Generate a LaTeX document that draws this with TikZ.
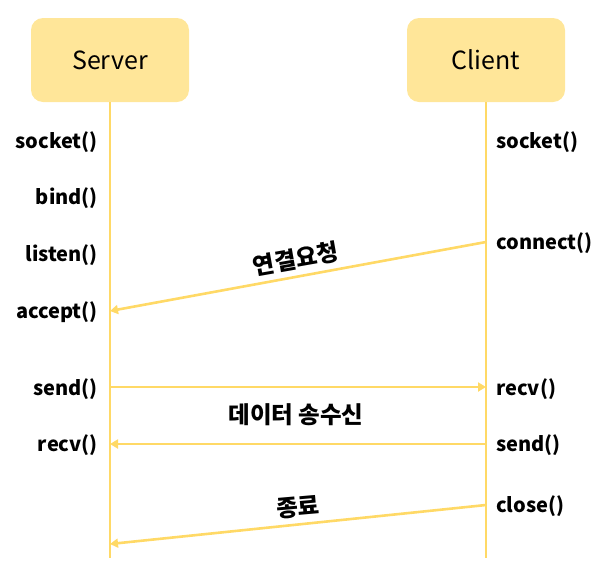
\documentclass[tikz,border=0pt]{standalone}
\usepackage{fontspec}
\setmainfont{Noto Sans CJK KR}
\usetikzlibrary{arrows.meta}
\definecolor{boxfill}{HTML}{FFE699}
\definecolor{lifeline}{HTML}{FFD966}
\tikzset{
  actor/.style={fill=boxfill, rounded corners=12pt, minimum width=158pt, minimum height=84pt, inner sep=0pt, font=\fontsize{25}{30}\selectfont},
  lline/.style={draw=lifeline, line width=2.6pt},
  msg/.style={draw=lifeline, line width=2.6pt, -{Triangle[length=8pt,width=9pt]}},
  lcall/.style={anchor=east, inner sep=0pt, font=\bfseries\fontsize{20}{24}\selectfont},
  rcall/.style={anchor=west, inner sep=0pt, font=\bfseries\fontsize{20}{24}\selectfont},
  mlabel/.style={inner sep=0pt, font=\bfseries\fontsize{23.5}{28}\selectfont},
}
\begin{document}
\begin{tikzpicture}[x=1pt,y=-1pt]
\useasboundingbox (0,0) rectangle (610,579);
\node[actor] (server) at (110,60) {Server};
\node[actor] (client) at (486,60) {Client};
\coordinate (send) at (110,558);
\coordinate (cend) at (486,558);
\draw[lline] (server.south) -- (send);
\draw[lline] (client.south) -- (cend);
% left labels
\node[lcall] (s1) at (98,142) {socket()};
\node[lcall] (s2) at (98,198) {bind()};
\node[lcall] (s3) at (98,255) {listen()};
\node[lcall] (s4) at (98,312) {accept()};
\node[lcall] (s5) at (98,389) {send()};
\node[lcall] (s6) at (98,445) {recv()};
% right labels
\node[rcall] (c1) at (496,142) {socket()};
\node[rcall] (c2) at (496,243) {connect()};
\node[rcall] (c3) at (496,389) {recv()};
\node[rcall] (c4) at (496,445) {send()};
\node[rcall] (c5) at (496,506) {close()};
% message anchor points
\coordinate (cc) at (486,242);
\coordinate (sa) at (110,311);
\coordinate (ss) at (110,387);
\coordinate (cr) at (486,387);
\coordinate (cs) at (486,444);
\coordinate (sr) at (110,444);
\coordinate (cx) at (486,505);
\coordinate (sx) at (110,544);
\draw[msg] (cc) -- (sa);
\draw[msg] (ss) -- (cr);
\draw[msg] (cs) -- (sr);
\draw[msg] (cx) -- (sx);
\node[mlabel, rotate=10] (m1) at (296,259) {연결요청};
\node[mlabel] (m2) at (296,415) {데이터 송수신};
\node[mlabel, rotate=5] (m3) at (298,507) {종료};
\end{tikzpicture}
\end{document}
